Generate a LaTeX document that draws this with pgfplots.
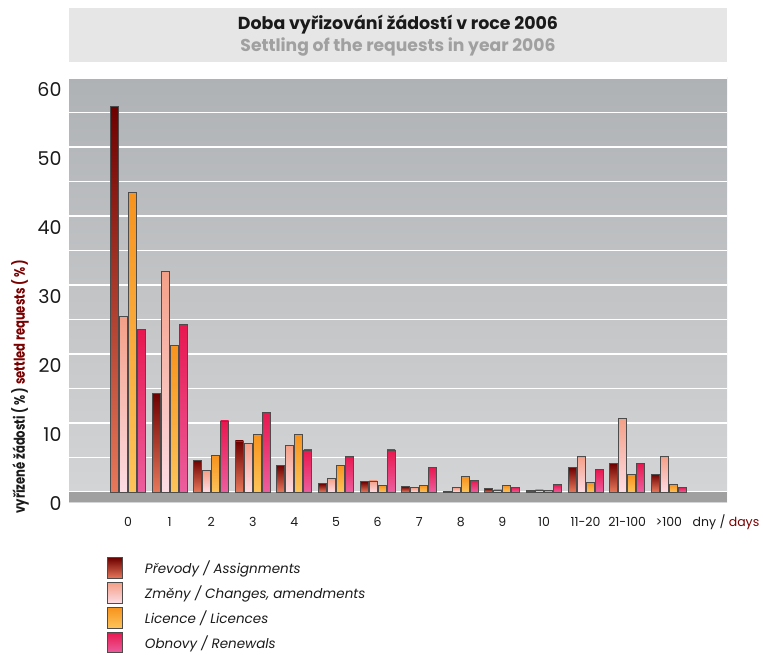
\documentclass[border=0pt]{standalone}
\usepackage{fontspec}
\setmainfont{Poppins}
\usepackage{pgfplots}
\pgfplotsset{compat=1.18}
\usepackage{pgfplotstable}

\definecolor{pvtop}{HTML}{6E0000}
\definecolor{pvbot}{HTML}{E8785A}
\definecolor{zmtop}{HTML}{F4A088}
\definecolor{zmbot}{HTML}{FCDCE4}
\definecolor{litop}{HTML}{F7931E}
\definecolor{libot}{HTML}{FCC45A}
\definecolor{obtop}{HTML}{E8174F}
\definecolor{obbot}{HTML}{EC5E9E}
\definecolor{bgtop}{HTML}{AFB2B5}
\definecolor{bgbot}{HTML}{D4D5D6}
\definecolor{floorgray}{HTML}{A0A0A0}
\definecolor{titlebg}{HTML}{E6E6E6}
\definecolor{subgray}{HTML}{A0A0A0}
\definecolor{darkred}{HTML}{7A0000}
\definecolor{txt}{HTML}{1A1A1A}

\pgfplotsset{
  pv/.style={top color=pvtop, bottom color=pvbot, draw=black!70, line width=0.8pt},
  zm/.style={top color=zmtop, bottom color=zmbot, draw=black!70, line width=0.8pt},
  li/.style={top color=litop, bottom color=libot, draw=black!70, line width=0.8pt},
  ob/.style={top color=obtop, bottom color=obbot, draw=black!70, line width=0.8pt},
}

\pgfplotstableread{
x P Z L O
0 55.9 25.4 43.4 23.6
1 14.3 32.0 21.3 24.3
2 4.6 3.1 5.3 10.3
3 7.4 7.1 8.3 11.5
4 3.9 6.7 8.3 6.1
5 1.2 2.0 3.9 5.2
6 1.5 1.6 1.0 6.1
7 0.8 0.6 1.0 3.6
8 0.15 0.6 2.2 1.7
9 0.5 0.3 1.0 0.7
10 0.25 0.3 0.2 1.1
11 3.6 5.1 1.4 3.3
12 4.1 10.6 2.5 4.2
13 2.6 5.1 1.1 0.7
}\data

\begin{document}
\begin{tikzpicture}
\useasboundingbox (0pt,0pt) rectangle (763pt,-654pt);
\fill[titlebg] (69pt,-8pt) rectangle (727pt,-62pt);
\node[text=txt] at (398pt,-25pt) {\bfseries\fontsize{17.4}{18}\selectfont Doba vyřizování žádostí v roce 2006};
\node[text=subgray] at (398pt,-47pt) {\bfseries\fontsize{17.2}{18}\selectfont Settling of the requests in year 2006};
\begin{axis}[
  at={(69pt,-502pt)}, anchor=south west,
  scale only axis, width=658pt, height=425pt,
  xmin=-1.418, xmax=14.4, ymin=-1.45, ymax=60.14,
  axis line style={draw=none},
  axis background/.style={top color=bgtop, bottom color=bgbot},
  ytick={0,10,...,60}, minor ytick={5,15,...,55},
  ymajorgrids, yminorgrids,
  major grid style={white, line width=1.2pt},
  minor grid style={white, line width=1.2pt},
  xtick={0,...,13},
  xticklabels={0,1,2,3,4,5,6,7,8,9,10,11-20,21-100,>100},
  major tick length=0pt, minor tick length=0pt,
  tick style={draw=none},
  /pgf/number format/assume math mode=true,
  yticklabel style={font=\fontsize{19}{19}\selectfont, text=txt, xshift=-4pt, yshift=-12pt},
  xticklabel style={font=\fontsize{12.5}{12.5}\selectfont, text=txt, yshift=-12pt},
  legend style={at={(axis description cs:0.0577,-0.130)}, anchor=north west,
    draw=none, fill=none, inner sep=0pt, row sep=3.5pt, column sep=20pt,
    font=\itshape\fontsize{13.5}{14}\selectfont, text=txt},
  legend cell align=left,
  legend image code/.code={\draw[#1] (0pt,-10.25pt) rectangle (15pt,10.25pt);},
]
\fill[floorgray] (axis cs:-1.418,-1.45) rectangle (axis cs:14.4,0);
\pgfplotsinvokeforeach{0,...,13}{
  \addplot[ybar, bar width=8pt, bar shift=-13.5pt, pv, forget plot, x filter/.expression={x==#1 ? x : nan}] table[x=x,y=P] {\data};
  \addplot[ybar, bar width=8pt, bar shift=-4.5pt, zm, forget plot, x filter/.expression={x==#1 ? x : nan}] table[x=x,y=Z] {\data};
  \addplot[ybar, bar width=8pt, bar shift=4.5pt, li, forget plot, x filter/.expression={x==#1 ? x : nan}] table[x=x,y=L] {\data};
  \addplot[ybar, bar width=8pt, bar shift=13.5pt, ob, forget plot, x filter/.expression={x==#1 ? x : nan}] table[x=x,y=O] {\data};
}
\addlegendimage{pv}\addlegendentry{Převody / Assignments}
\addlegendimage{zm}\addlegendentry{Změny / Changes, amendments}
\addlegendimage{li}\addlegendentry{Licence / Licences}
\addlegendimage{ob}\addlegendentry{Obnovy / Renewals}
\end{axis}
\node[anchor=center, font=\fontsize{12.5}{12.5}\selectfont] at (726pt,-522pt) {\textcolor{txt}{dny /} \textcolor{darkred}{days}};
\node[rotate=90, anchor=center] at (20pt,-386.5pt) {\scalebox{0.775}[1]{\bfseries\fontsize{15}{15}\selectfont\textcolor{txt}{vyřízené žádosti ( \% )} \textcolor{darkred}{settled requests ( \% )}}};
\end{tikzpicture}
\end{document}
